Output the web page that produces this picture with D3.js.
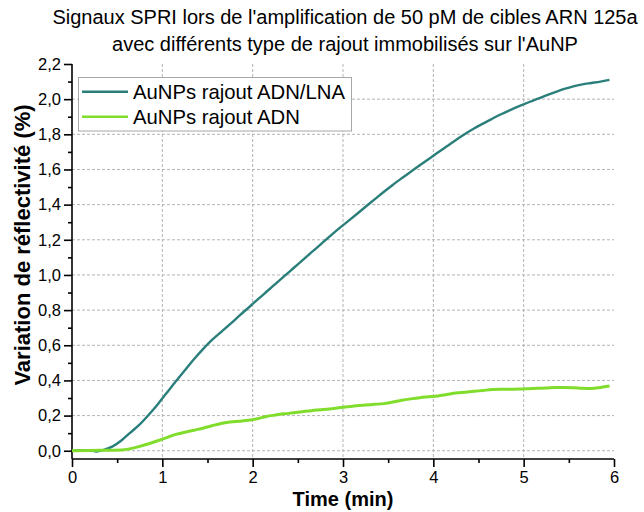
<!DOCTYPE html>
<html><head><meta charset="utf-8">
<script src="https://cdn.jsdelivr.net/npm/d3@7/dist/d3.min.js"></script>
<style>body{margin:0;background:#fff}svg{display:block}</style>
</head><body>
<script>
const titleLines = ["Signaux SPRI lors de l'amplification de 50 pM de cibles ARN 125a", "avec différents type de rajout immobilisés sur l'AuNP"];
const xLabel = "Time (min)";
const yLabel = "Variation de réflectivité (%)";
const seriesNames = ["AuNPs rajout ADN/LNA", "AuNPs rajout ADN"];
const seriesColors = ["#2b7f7b", "#80dd2c"];
const xTicks = [0,1,2,3,4,5,6];
const yTicks = [0,0.2,0.4,0.6,0.8,1.0,1.2,1.4,1.6,1.8,2.0,2.2];
const timeLNA = [0,0.1,0.2,0.27,0.35,0.45,0.55,0.65,0.75,0.85,0.95,1.05,1.15,1.25,1.35,1.45,1.55,1.65,1.75,1.85,1.95,2.05,2.15,2.25,2.35,2.45,2.55,2.65,2.75,2.85,2.95,3.05,3.15,3.25,3.35,3.45,3.55,3.65,3.75,3.85,3.95,4.05,4.15,4.25,4.35,4.45,4.55,4.65,4.75,4.85,4.95,5.05,5.15,5.25,5.35,5.45,5.55,5.65,5.75,5.85,5.95];
const valLNA = [0,0.003,0.002,-0.004,0.005,0.025,0.06,0.105,0.15,0.205,0.265,0.33,0.395,0.458,0.52,0.578,0.63,0.675,0.72,0.767,0.812,0.858,0.903,0.948,0.993,1.038,1.083,1.128,1.173,1.218,1.262,1.303,1.345,1.388,1.43,1.472,1.512,1.55,1.587,1.624,1.66,1.696,1.732,1.768,1.802,1.833,1.861,1.888,1.914,1.938,1.96,1.981,2.001,2.021,2.04,2.058,2.073,2.084,2.092,2.1,2.11];
const timeADN = [0,0.2,0.4,0.55,0.65,0.75,0.85,0.95,1.05,1.15,1.25,1.35,1.45,1.55,1.65,1.75,1.85,1.95,2.05,2.15,2.25,2.35,2.45,2.55,2.65,2.75,2.85,2.95,3.05,3.15,3.25,3.35,3.45,3.55,3.65,3.75,3.85,3.95,4.05,4.15,4.25,4.35,4.45,4.55,4.65,4.75,4.85,4.95,5.05,5.15,5.25,5.35,5.45,5.55,5.65,5.75,5.85,5.95];
const valADN = [0,0.002,0.003,0.004,0.012,0.025,0.04,0.057,0.075,0.093,0.105,0.117,0.128,0.142,0.155,0.163,0.168,0.173,0.182,0.195,0.203,0.21,0.216,0.222,0.228,0.233,0.238,0.244,0.25,0.256,0.26,0.264,0.268,0.277,0.287,0.295,0.302,0.307,0.312,0.32,0.328,0.333,0.338,0.343,0.348,0.35,0.35,0.351,0.353,0.355,0.357,0.36,0.36,0.359,0.355,0.354,0.36,0.368];

const W = 644, H = 512;
const svg = d3.select("body").append("svg").attr("width", W).attr("height", H);
const font = "'Liberation Sans', Arial, sans-serif";
const x = d3.scaleLinear().domain([0, 6]).range([72, 614]);
const y = d3.scaleLinear().domain([-0.047, 2.2]).range([459, 64]);
const fmt = d => d3.format(".1f")(d).replace(".", ",");

// grid
const grid = svg.append("g").attr("stroke", "#b4b4b4").attr("stroke-width", 1).attr("stroke-dasharray", "3,2");
xTicks.slice(1, -1).forEach(t => grid.append("line").attr("x1", x(t)).attr("x2", x(t)).attr("y1", y(2.2)).attr("y2", y(-0.047)));
yTicks.filter(v => v < 2.1).forEach(v => grid.append("line").attr("x1", x(0)).attr("x2", x(6)).attr("y1", y(v)).attr("y2", y(v)));

// axes
const xAxis = svg.append("g").attr("transform", `translate(0,${y(-0.047)})`)
  .call(d3.axisBottom(x).tickValues(xTicks).tickSize(8).tickPadding(4).tickFormat(d3.format("d")));
const xMinor = svg.append("g").attr("transform", `translate(0,${y(-0.047)})`)
  .call(d3.axisBottom(x).tickValues(d3.range(0.5, 6, 1)).tickSize(4).tickFormat(""));
const yAxis = svg.append("g").attr("transform", `translate(${x(0)},0)`)
  .call(d3.axisLeft(y).tickValues(yTicks).tickSize(8).tickPadding(3).tickFormat(fmt));
const yMinor = svg.append("g").attr("transform", `translate(${x(0)},0)`)
  .call(d3.axisLeft(y).tickValues(d3.range(0.1, 2.2, 0.2)).tickSize(4).tickFormat(""));
[xAxis, xMinor, yAxis, yMinor].forEach(g => {
  g.select(".domain").attr("stroke", "#000").attr("stroke-width", 1.6);
  g.selectAll(".tick line").attr("stroke", "#000").attr("stroke-width", 1.6);
  g.selectAll("text").attr("font-family", font).attr("font-size", 16.5).attr("fill", "#000");
});
[xMinor, yMinor].forEach(g => g.select(".domain").remove());
xAxis.select(".domain").attr("d", `M${x(0)},0H${x(6)}`);
yAxis.select(".domain").attr("d", `M0,${y(-0.047)}V${y(2.2)}`);

// lines
const line = d3.line().x(d => x(d[0])).y(d => y(d[1])).curve(d3.curveMonotoneX);
const dataLNA = timeLNA.map((t, i) => [t, valLNA[i]]);
const dataADN = timeADN.map((t, i) => [t, valADN[i]]);
svg.append("path").datum(dataLNA).attr("d", line).attr("fill", "none").attr("stroke", seriesColors[0]).attr("stroke-width", 2.4);
svg.append("path").datum(dataADN).attr("d", line).attr("fill", "none").attr("stroke", seriesColors[1]).attr("stroke-width", 3);

// legend
const lg = svg.append("g");
lg.append("rect").attr("x", 78.5).attr("y", 77.5).attr("width", 273).attr("height", 53.5)
  .attr("fill", "#fff").attr("stroke", "#a8a8a8").attr("stroke-width", 1);
seriesNames.forEach((n, i) => {
  const yy = 91.7 + i * 25;
  lg.append("line").attr("x1", 82).attr("x2", 128).attr("y1", yy).attr("y2", yy).attr("stroke", seriesColors[i]).attr("stroke-width", 2.6);
  lg.append("text").attr("x", 133).attr("y", yy + 7).attr("font-family", font).attr("font-size", 20.3).text(n);
});

// title
titleLines.forEach((t, i) => svg.append("text").attr("x", 345).attr("y", 24 + i * 27).attr("text-anchor", "middle")
  .attr("font-family", font).attr("font-size", 20).text(t));

// axis labels
svg.append("text").attr("x", x(3)).attr("y", 506).attr("text-anchor", "middle").attr("font-family", font)
  .attr("font-size", 20).attr("font-weight", "bold").text(xLabel);
svg.append("text").attr("transform", `translate(30,245) rotate(-90)`).attr("text-anchor", "middle").attr("font-family", font)
  .attr("font-size", 22).attr("font-weight", "bold").text(yLabel);
</script>
</body></html>
